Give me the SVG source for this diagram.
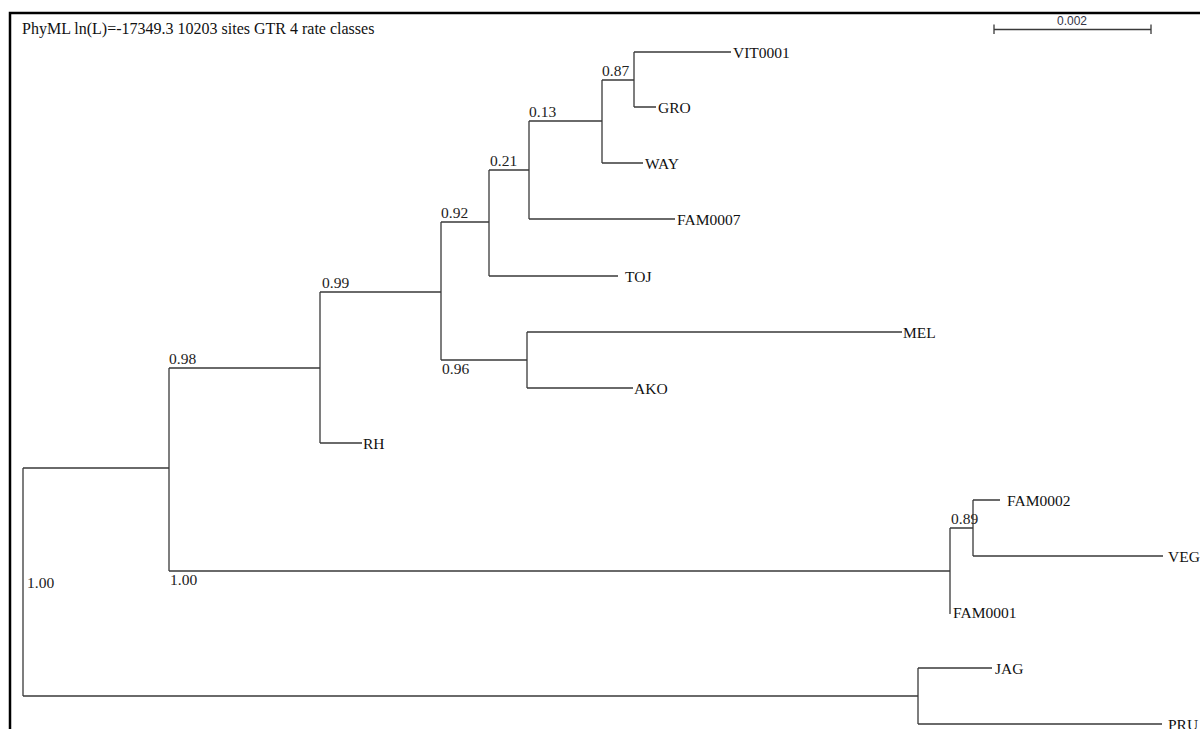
<svg xmlns="http://www.w3.org/2000/svg" width="1200" height="729" viewBox="0 0 1200 729">
<style>
.br{fill:none;stroke:#3a3a3a;stroke-width:1.3}
.frame{fill:none;stroke:#000;stroke-width:2.5}
.lf{font-family:"Liberation Serif","Times New Roman",serif;font-size:15.5px;fill:#111}
.sp{font-family:"Liberation Serif","Times New Roman",serif;font-size:15.5px;fill:#222}
.ti{font-family:"Liberation Serif","Times New Roman",serif;font-size:16px;fill:#111}
.sc{font-family:"Liberation Sans",Arial,sans-serif;font-size:12px;fill:#334}
</style>
<rect width="1200" height="729" fill="#fff"/>
<path class="frame" d="M10,729 V13 H1200"/>
<g id="title"><text class="ti" x="22" y="34">PhyML ln(L)=-17349.3 10203 sites GTR 4 rate classes</text></g>
<g id="scale">
<path class="br" d="M994,29.5 H1151 M994,24.5 V34 M1151,24.5 V34"/>
<text class="sc" x="1072" y="25" text-anchor="middle">0.002</text>
</g>
<g id="connectors">
<path class="br" d="M23,468 V696 M23,468 H169 M23,696 H918"/>
<path class="br" d="M169,368 V571 M169,368 H320 M169,571 H950"/>
<path class="br" d="M320,292 V443 M320,292 H441 M320,443 H362"/>
<path class="br" d="M441,222 V360 M441,222 H489 M441,360 H527"/>
<path class="br" d="M527,332 V388 M527,332 H902 M527,388 H633"/>
<path class="br" d="M489,170 V276 M489,170 H529 M489,276 H618"/>
<path class="br" d="M529,121 V219 M529,121 H602 M529,219 H675"/>
<path class="br" d="M602,80 V163 M602,80 H634 M602,163 H643"/>
<path class="br" d="M634,52 V107 M634,52 H731 M634,107 H656"/>
<path class="br" d="M950,528 V614 M950,528 H973"/>
<path class="br" d="M973,500 V556 M973,500 H1000 M973,556 H1163"/>
<path class="br" d="M918,668 V724 M918,668 H992 M918,724 H1162"/>
</g>
<g id="n-root"><text class="sp" x="27" y="588">1.00</text></g>
<g id="n-098"><text class="sp" x="169" y="364">0.98</text></g>
<g id="n-100b"><text class="sp" x="170" y="585">1.00</text></g>
<g id="n-099"><text class="sp" x="322" y="288">0.99</text></g>
<g id="n-092"><text class="sp" x="441" y="218">0.92</text></g>
<g id="n-096"><text class="sp" x="442" y="374">0.96</text></g>
<g id="n-021"><text class="sp" x="490" y="166">0.21</text></g>
<g id="n-013"><text class="sp" x="529" y="117">0.13</text></g>
<g id="n-087"><text class="sp" x="602" y="76">0.87</text></g>
<g id="n-089"><text class="sp" x="951" y="524">0.89</text></g>
<g id="VIT0001"><text class="lf" x="733" y="57.5">VIT0001</text></g>
<g id="GRO"><text class="lf" x="658" y="112.5">GRO</text></g>
<g id="WAY"><text class="lf" x="645" y="168.5">WAY</text></g>
<g id="FAM0007"><text class="lf" x="677" y="224.5">FAM0007</text></g>
<g id="TOJ"><text class="lf" x="625" y="281.5">TOJ</text></g>
<g id="MEL"><text class="lf" x="903" y="337.5">MEL</text></g>
<g id="AKO"><text class="lf" x="634" y="393.5">AKO</text></g>
<g id="RH"><text class="lf" x="363" y="448.5">RH</text></g>
<g id="FAM0002"><text class="lf" x="1007" y="505.5">FAM0002</text></g>
<g id="VEG"><text class="lf" x="1168" y="561.5">VEG</text></g>
<g id="FAM0001"><text class="lf" x="953" y="618">FAM0001</text></g>
<g id="JAG"><text class="lf" x="995" y="673.5">JAG</text></g>
<g id="PRU"><text class="lf" x="1168" y="729.5">PRU</text></g>
</svg>
